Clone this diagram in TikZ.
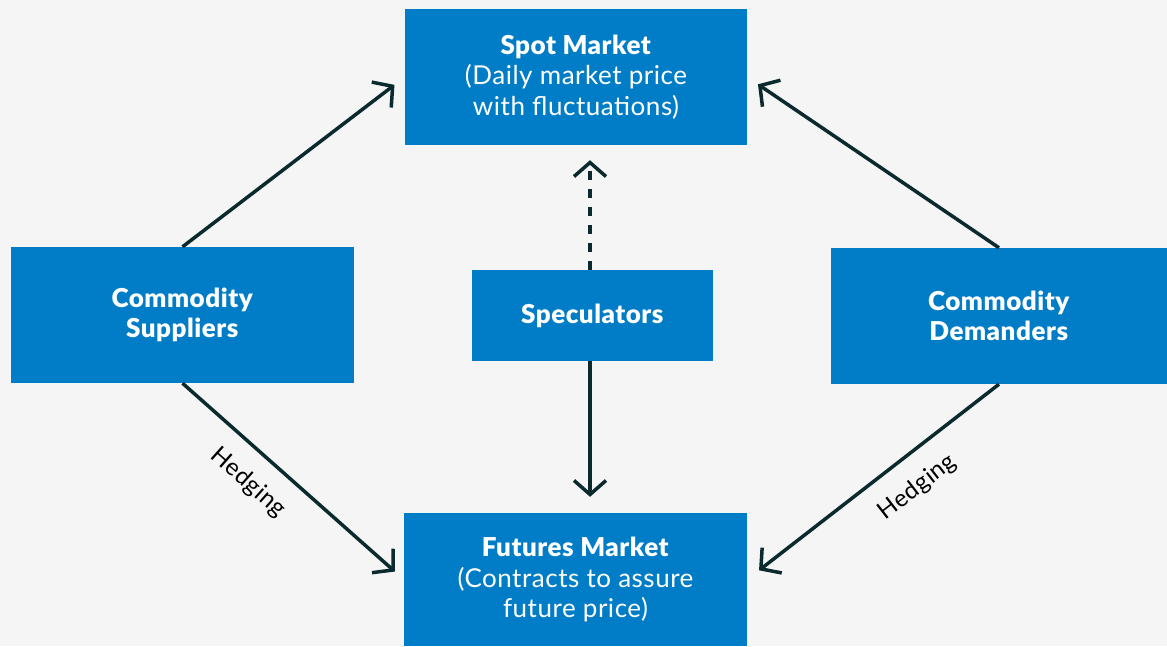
\documentclass[tikz,border=0pt]{standalone}
\usepackage{fontspec}
\setmainfont{Lato}[LetterSpace=2, BoldFont={Lato Black}]
\usetikzlibrary{arrows.meta}
\definecolor{boxblue}{HTML}{007DC6}
\definecolor{bgcol}{HTML}{F5F5F5}
\definecolor{linecol}{HTML}{0B2A2E}
\tikzset{
  box/.style={fill=boxblue, text=white, align=center, inner sep=0pt,
    font=\fontsize{26}{30.5}\selectfont},
  conn/.style={draw=linecol, line width=3.5pt,
    -{Straight Barb[length=14pt,width=32pt,line width=3.5pt]}},
  lbl/.style={font=\fontsize{24}{28}\selectfont, text=black, inner sep=0pt}
}
\begin{document}
\begin{tikzpicture}[x=1pt,y=-1pt]
\fill[bgcol] (0,0) rectangle (1167,646);
\useasboundingbox (0,0) rectangle (1167,646);
\node[box, minimum width=342pt, minimum height=136pt] (spot) at (576,77)
  {\textbf{Spot Market}\\(Daily market price\\with fluctuations)};
\node[box, minimum width=343pt, minimum height=136pt] (sup) at (182.5,315)
  {\textbf{Commodity}\\\textbf{Suppliers}};
\node[box, minimum width=241pt, minimum height=91pt] (spec) at (592.5,315.5)
  {\textbf{Speculators}};
\node[box, minimum width=336pt, minimum height=136pt] (dem) at (999,316)
  {\textbf{Commodity}\\\textbf{Demanders}};
\node[box, minimum width=343pt, minimum height=133pt] (fut) at (575.5,579.5)
  {\textbf{Futures Market}\\(Contracts to assure\\future price)};
\draw[conn, shorten >=13pt] (sup.north) -- (spot.west);
\draw[conn, shorten >=13pt] (dem.north) -- (spot.east);
\draw[conn, shorten >=12pt] (sup.south) -- node[lbl, sloped, below=18pt, pos=0.39] {Hedging} (fut.west);
\draw[conn, shorten >=15pt] (dem.south) -- node[lbl, sloped, below=19pt, pos=0.40] {Hedging} (fut.east);
\draw[conn, dashed, dash pattern=on 9pt off 9pt, shorten >=15pt] ([xshift=-2.5pt]spec.north) -- ([xshift=-2.5pt]spec.north |- spot.south);
\draw[conn, shorten >=16pt] ([xshift=-2.5pt]spec.south) -- ([xshift=-2.5pt]spec.south |- fut.north);
\end{tikzpicture}
\end{document}
